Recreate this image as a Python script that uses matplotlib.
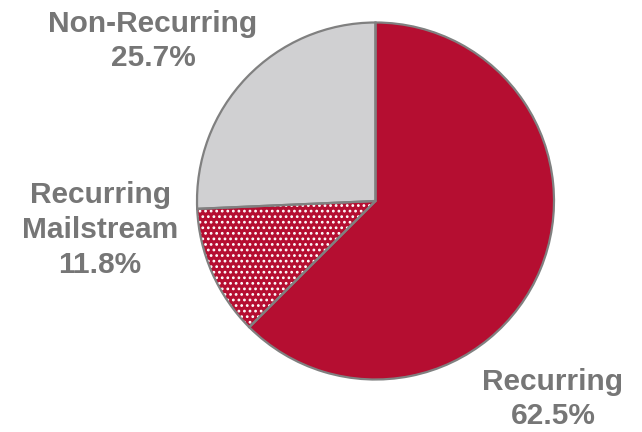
import matplotlib
matplotlib.use("Agg")
import matplotlib.pyplot as plt

# slice data, clockwise from 12 o'clock
labels = ["Recurring", "Recurring\nMailstream", "Non-Recurring"]
shares = [62.5, 11.8, 25.7]

red = "#B50E31"
grey_fill = "#D0D0D2"
edge = "#808080"
text_col = "#767676"

# label centres in pixels (from top-left of the picture)
label_pos = [(553, 399), (100, 230), (153, 41)]

W, H = 642, 432
fig = plt.figure(figsize=(W / 100, H / 100), dpi=100)
ax = fig.add_axes([0, 0, 1, 1])

cx, cy, r = 375.5, H - 201, 178.5

plt.rcParams["hatch.linewidth"] = 1.2

wedges, _ = ax.pie(shares, startangle=90, counterclock=False,
                   colors=[red, red, grey_fill], radius=r, center=(cx, cy),
                   wedgeprops=dict(linewidth=0))
# dotted texture on the mailstream slice (hatch takes the edge colour)
wedges[1].set_edgecolor("white")
wedges[1].set_hatch("...")
wedges[1].set_linewidth(0)

# outlines on top
ax.pie(shares, startangle=90, counterclock=False, radius=r, center=(cx, cy),
       wedgeprops=dict(fill=False, edgecolor=edge, linewidth=1.6))

for name, val, (px, py) in zip(labels, shares, label_pos):
    ax.text(px, H - py, f"{name}\n{val:.1f}%", ha="center", va="center",
            multialignment="center", fontsize=21.5, fontweight="bold",
            color=text_col, family="Liberation Sans", linespacing=1.3)

ax.set_xlim(0, W)
ax.set_ylim(0, H)
ax.set_aspect("equal")
ax.axis("off")

fig.savefig("out.png", dpi=100)
